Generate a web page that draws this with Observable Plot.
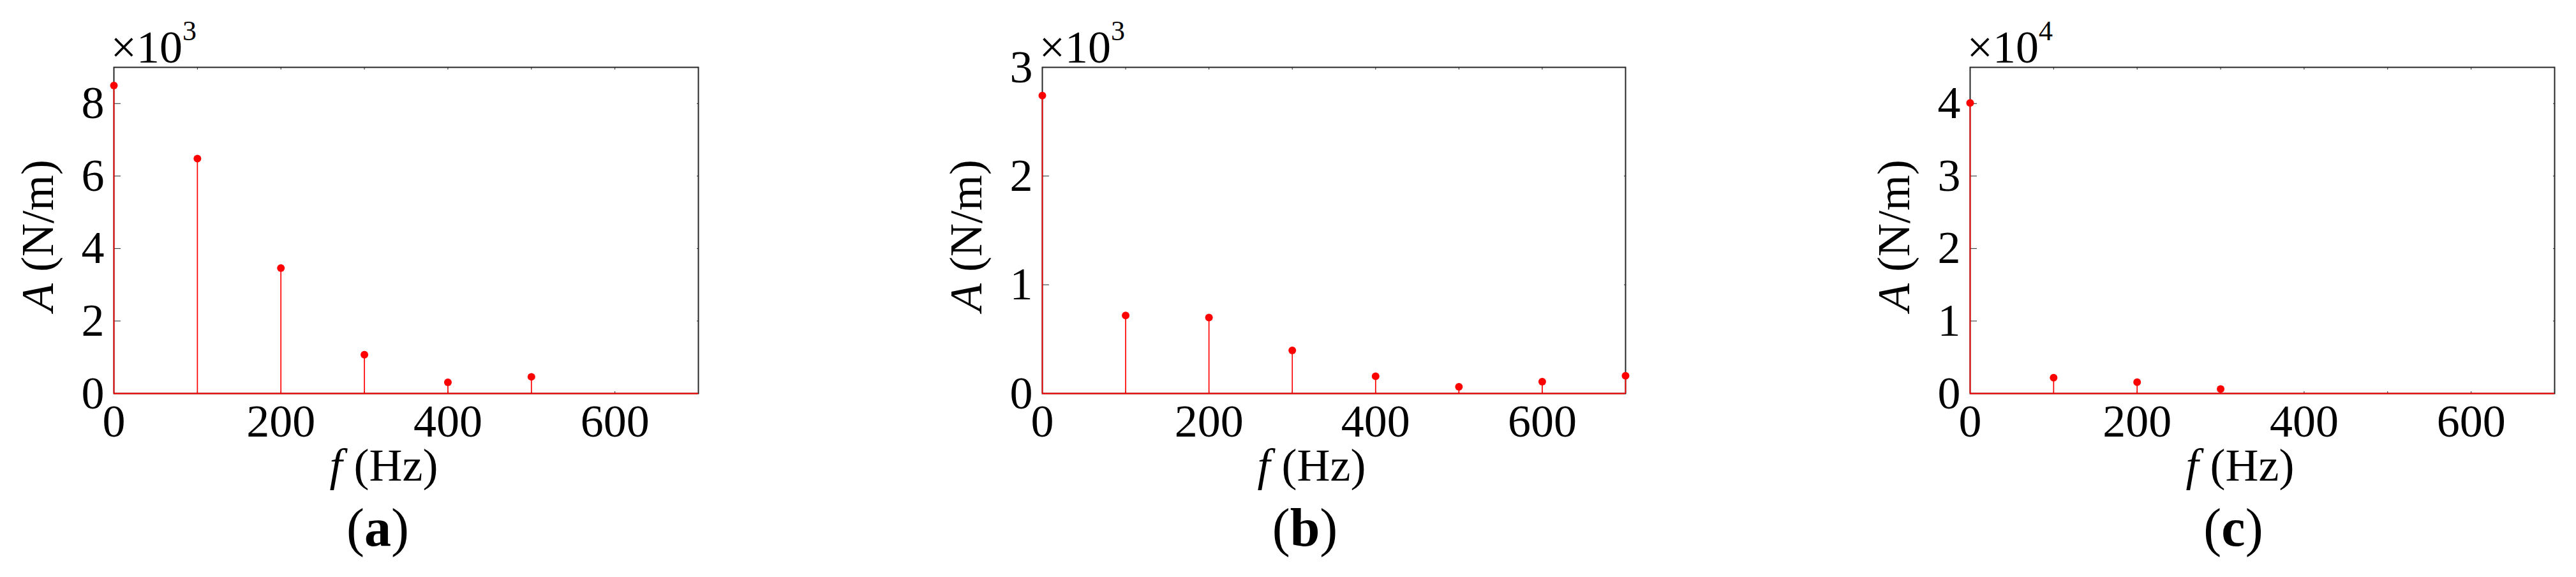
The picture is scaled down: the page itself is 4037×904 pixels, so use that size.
<!DOCTYPE html>
<html><head><meta charset="utf-8">
<script src="https://cdn.jsdelivr.net/npm/d3@7"></script>
<script src="https://cdn.jsdelivr.net/npm/@observablehq/plot@0.6"></script>
<style>
html,body{margin:0;padding:0;background:#fff;}
body{width:4037px;height:904px;position:relative;overflow:hidden;font-family:"Liberation Serif","Times New Roman",serif;color:#000;}
.panel{position:absolute;top:0;}
.cap{position:absolute;top:785px;width:300px;font-size:84px;line-height:84px;text-align:center;white-space:nowrap;}
</style></head><body>
<script>
// ---- data ----
const freqA = [0, 100, 200, 300, 400, 500];            // Hz
const ampA  = [8500, 6480, 3460, 1070, 310, 460];       // N/m
const freqB = [0, 100, 200, 300, 400, 500, 600, 700];
const ampB  = [2740, 718, 698, 396, 159, 61, 108, 163];
const freqC = [0, 100, 200, 300];
const ampC  = [40100, 2180, 1570, 610];

const xTickLabels = [0, 200, 400, 600];
const xTicks = [0, 100, 200, 300, 400, 500, 600, 700];
const yTicksA = [0, 2, 4, 6, 8];     // ×10^3
const yTicksB = [0, 1, 2, 3];        // ×10^3
const yTicksC = [0, 1, 2, 3, 4];     // ×10^4
const exponents = [3, 3, 4];
const yMaxes = [9, 3, 4.5];
const captions = ["a", "b", "c"];
const yLabel = "A (N/m)";
const xLabel = "f (Hz)";

const FONT = "'Liberation Serif', 'Times New Roman', serif";

function panel({freq, amp, exp, yTicks, yMax, left, frameW, marginRight, caption, capCenter}) {
  const k = Math.pow(10, exp);
  const data = freq.map((f, i) => ({f, a: amp[i]}));
  const yt = yTicks.map(v => v * k);
  const width = 178 + frameW + marginRight;
  const svg = Plot.plot({
    width, height: 780,
    marginLeft: 178, marginRight, marginTop: 105, marginBottom: 164,
    style: {fontFamily: FONT, fontSize: "72px", color: "#000", background: "transparent", overflow: "visible"},
    x: {domain: [0, 700], label: null},
    y: {domain: [0, yMax * k], label: null},
    marks: [
      Plot.frame({stroke: "#262626", strokeWidth: 2}),
      Plot.axisX(xTicks, {anchor: "bottom", tickSize: -3, fill: "none", label: null, stroke: "#262626"}),
      Plot.axisX(xTicks, {anchor: "top", tickSize: -3, fill: "none", label: null, stroke: "#262626"}),
      Plot.axisX(xTickLabels, {anchor: "bottom", tickSize: 0, tickPadding: 16, label: null, fill: "#000"}),
      Plot.axisY(yt, {anchor: "left", tickSize: -11, fill: "none", label: null, stroke: "#262626"}),
      Plot.axisY(yt, {anchor: "right", tickSize: -3, fill: "none", label: null, stroke: "#262626"}),
      Plot.axisY(yt, {anchor: "left", tickSize: 0, tickPadding: 15, tickFormat: d => String(d / k), label: null, fill: "#000"}),
      Plot.ruleX(data, {x: "f", y1: 0, y2: "a", stroke: "#ff0000", strokeWidth: 1.7}),
      Plot.ruleY([0], {stroke: "#ff0000", strokeWidth: 1.8}),
      Plot.dot(data, {x: "f", y: "a", r: 6, fill: "#ff0000", stroke: "none"}),
      Plot.text([yLabel], {text: d => d, frameAnchor: "left", rotate: -90, dx: -96, dy: 8, lineAnchor: "bottom", textAnchor: "middle", fill: "#000"}),
      Plot.text([xLabel], {text: d => d, frameAnchor: "bottom", dx: -35, dy: 136, lineAnchor: "bottom", textAnchor: "middle", fill: "#000"}),
      Plot.text(["×10" + exp], {text: d => d, frameAnchor: "top-left", dx: -5, dy: -8, lineAnchor: "bottom", textAnchor: "start", fill: "#000"})
    ]
  });
  // styling of mixed-style labels
  d3.select(svg).selectAll("text").each(function() {
    const t = this.textContent;
    const sel = d3.select(this);
    if (t === yLabel) {
      sel.text(null);
      sel.append("tspan").attr("font-style", "italic").text("A");
      sel.append("tspan").text(" (N/m)");
    } else if (t === xLabel) {
      sel.text(null);
      sel.append("tspan").attr("font-style", "italic").text("f");
      sel.append("tspan").text(" (Hz)");
    } else if (t === "×10" + exp) {
      sel.text(null);
      sel.append("tspan").text("×10");
      sel.append("tspan").attr("font-size", "44px").attr("dy", -35).text(String(exp));
    }
  });
  const div = document.createElement("div");
  div.className = "panel";
  div.style.left = left + "px";
  div.appendChild(svg);
  document.body.appendChild(div);
  const cap = document.createElement("div");
  cap.className = "cap";
  cap.style.left = (capCenter - 150) + "px";
  cap.innerHTML = "(<b>" + caption + "</b>)";
  document.body.appendChild(cap);
}

panel({freq: freqA, amp: ampA, exp: exponents[0], yTicks: yTicksA, yMax: yMaxes[0], left: 0, frameW: 916, marginRight: 100, caption: captions[0], capCenter: 592});
panel({freq: freqB, amp: ampB, exp: exponents[1], yTicks: yTicksB, yMax: yMaxes[1], left: 1455, frameW: 914, marginRight: 100, caption: captions[1], capCenter: 2045});
panel({freq: freqC, amp: ampC, exp: exponents[2], yTicks: yTicksC, yMax: yMaxes[2], left: 2909, frameW: 916, marginRight: 34, caption: captions[2], capCenter: 3500});
</script>
</body></html>
